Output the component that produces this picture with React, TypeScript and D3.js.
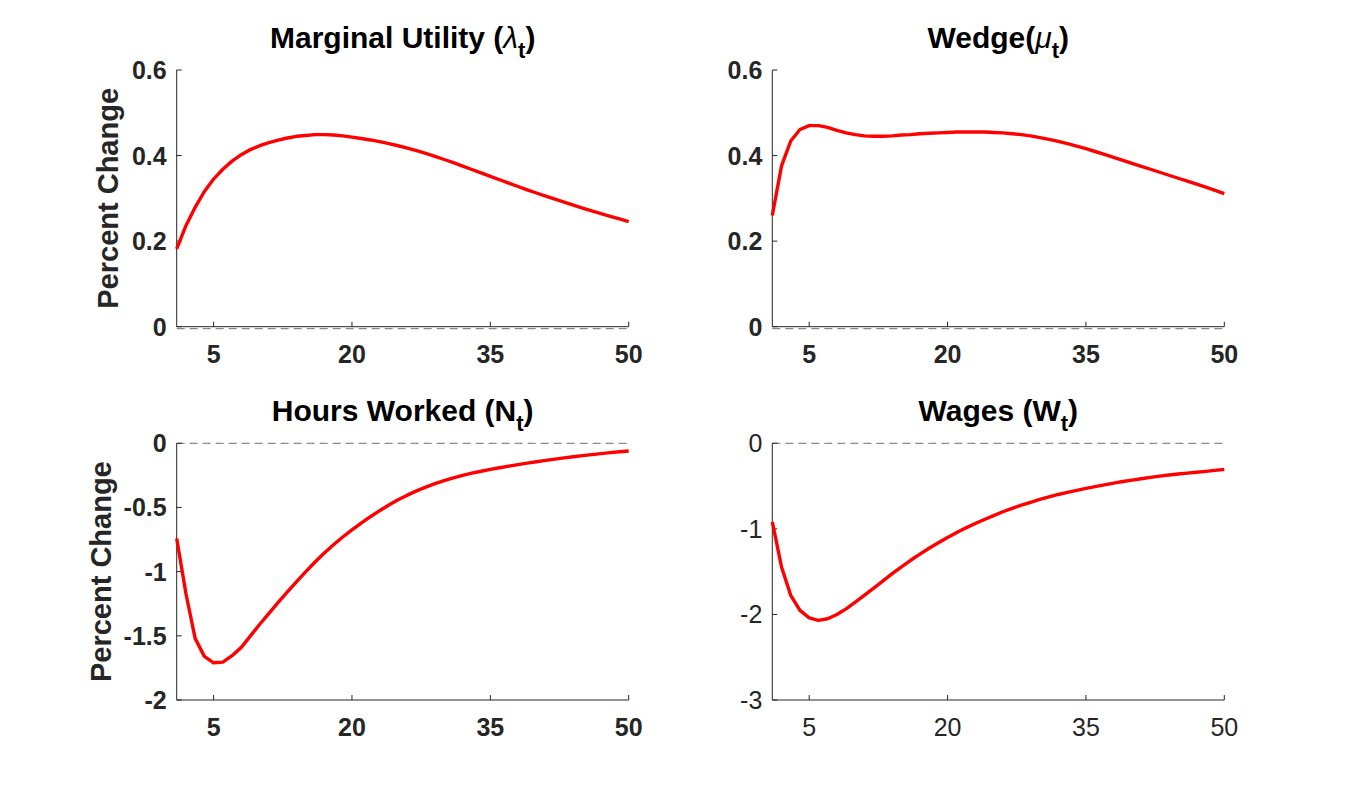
import React from "react";
import * as d3 from "d3";

// ---------- data ----------
const periods: number[] = Array.from({ length: 50 }, (_, i) => i + 1);

const marginalUtility: number[] = [
  0.182, 0.236, 0.279, 0.316, 0.345, 0.368, 0.387, 0.402, 0.414, 0.423,
  0.430, 0.436, 0.441, 0.445, 0.447, 0.449, 0.449, 0.448, 0.446, 0.443,
  0.440, 0.4365, 0.4325, 0.428, 0.423, 0.4175, 0.4115, 0.405, 0.398, 0.3908,
  0.3833, 0.3755, 0.3675, 0.3595, 0.3515, 0.3435, 0.3355, 0.3277, 0.320, 0.3125,
  0.3052, 0.298, 0.291, 0.2841, 0.2774, 0.2708, 0.2643, 0.258, 0.2518, 0.2458,
];

const wedge: number[] = [
  0.260, 0.376, 0.434, 0.461, 0.470, 0.470, 0.466, 0.459, 0.453, 0.449,
  0.446, 0.445, 0.445, 0.446, 0.448, 0.449, 0.451, 0.452, 0.453, 0.454,
  0.455, 0.455, 0.455, 0.455, 0.454, 0.453, 0.451, 0.449, 0.446, 0.442,
  0.438, 0.433, 0.428, 0.422, 0.416, 0.4095, 0.403, 0.396, 0.389, 0.382,
  0.375, 0.368, 0.361, 0.354, 0.347, 0.340, 0.333, 0.326, 0.3185, 0.311,
];

const hoursWorked: number[] = [
  -0.742, -1.17, -1.52, -1.66, -1.71, -1.705, -1.655, -1.59, -1.50, -1.41,
  -1.325, -1.24, -1.158, -1.078, -1.0, -0.925, -0.855, -0.79, -0.73, -0.675,
  -0.622, -0.572, -0.525, -0.481, -0.44, -0.404, -0.371, -0.341, -0.314, -0.29,
  -0.269, -0.25, -0.233, -0.2175, -0.2035, -0.1905, -0.178, -0.166, -0.1545, -0.1435,
  -0.133, -0.123, -0.1135, -0.1045, -0.096, -0.088, -0.0802, -0.0727, -0.0655, -0.0595,
];

const wages: number[] = [
  -0.918, -1.445, -1.777, -1.953, -2.04, -2.07, -2.05, -2.0, -1.935, -1.857,
  -1.775, -1.692, -1.607, -1.523, -1.443, -1.367, -1.295, -1.227, -1.162, -1.10,
  -1.043, -0.988, -0.938, -0.89, -0.845, -0.80, -0.76, -0.723, -0.689, -0.656,
  -0.626, -0.598, -0.573, -0.55, -0.527, -0.506, -0.485, -0.465, -0.447, -0.43,
  -0.414, -0.398, -0.383, -0.371, -0.359, -0.348, -0.338, -0.328, -0.316, -0.305,
];

const xTicks: number[] = [5, 20, 35, 50];
const xDomain: [number, number] = [1, 50];

const ticksPositive: number[] = [0, 0.2, 0.4, 0.6];
const ticksHours: number[] = [0, -0.5, -1, -1.5, -2];
const ticksWages: number[] = [0, -1, -2, -3];

type TitlePart = { text: string; kind: "normal" | "greek" | "sub" };

interface Panel {
  title: TitlePart[];
  values: number[];
  yDomain: [number, number];
  yTicks: number[];
  ylabel?: string;
  boldTicks: boolean;
  col: number;
  row: number;
}

const panels: Panel[] = [
  {
    title: [
      { text: "Marginal Utility (", kind: "normal" },
      { text: "λ", kind: "greek" },
      { text: "t", kind: "sub" },
      { text: ")", kind: "normal" },
    ],
    values: marginalUtility,
    yDomain: [0, 0.6],
    yTicks: ticksPositive,
    ylabel: "Percent Change",
    boldTicks: true,
    col: 0,
    row: 0,
  },
  {
    title: [
      { text: "Wedge(", kind: "normal" },
      { text: "μ", kind: "greek" },
      { text: "t", kind: "sub" },
      { text: ")", kind: "normal" },
    ],
    values: wedge,
    yDomain: [0, 0.6],
    yTicks: ticksPositive,
    boldTicks: true,
    col: 1,
    row: 0,
  },
  {
    title: [
      { text: "Hours Worked (N", kind: "normal" },
      { text: "t", kind: "sub" },
      { text: ")", kind: "normal" },
    ],
    values: hoursWorked,
    yDomain: [-2, 0],
    yTicks: ticksHours,
    ylabel: "Percent Change",
    boldTicks: true,
    col: 0,
    row: 1,
  },
  {
    title: [
      { text: "Wages (W", kind: "normal" },
      { text: "t", kind: "sub" },
      { text: ")", kind: "normal" },
    ],
    values: wages,
    yDomain: [-3, 0],
    yTicks: ticksWages,
    boldTicks: false,
    col: 1,
    row: 1,
  },
];

// ---------- layout ----------
const W = 1354;
const H = 787;
const colLeft = [176.7, 772.3];
const rowTop = [70, 443.3];
const axW = 452;
const axH = 256.7;
const FONT = "'Liberation Sans', Arial, Helvetica, sans-serif";
const TEXT = "#262626";
const tickLen = 5;

function PanelView({ p }: { p: Panel }) {
  const left = colLeft[p.col];
  const top = rowTop[p.row];
  const bottom = top + axH;
  const right = left + axW;
  const x = d3.scaleLinear().domain(xDomain).range([left, right]);
  const y = d3.scaleLinear().domain(p.yDomain).range([bottom, top]);

  const line = d3
    .line<number>()
    .x((_, i) => x(periods[i]))
    .y((d) => y(d));

  const zeroY = y(0) + (Math.abs(y(0) - bottom) < 0.5 ? 2 : 0);
  const tickWeight = p.boldTicks ? "bold" : "normal";

  return (
    <g>
      {/* zero reference line */}
      <line
        x1={x(xDomain[0])}
        x2={x(xDomain[1])}
        y1={zeroY}
        y2={zeroY}
        stroke="#6e6e6e"
        strokeWidth={1}
        strokeDasharray="8,5"
      />
      {/* axes */}
      <line x1={left} x2={left} y1={top} y2={bottom} stroke={TEXT} strokeWidth={1} />
      <line x1={left} x2={right} y1={bottom} y2={bottom} stroke={TEXT} strokeWidth={1} />
      {xTicks.map((t) => (
        <g key={"x" + t}>
          <line x1={x(t)} x2={x(t)} y1={bottom} y2={bottom - tickLen} stroke={TEXT} strokeWidth={1} />
          <text
            x={x(t)}
            y={bottom + 36}
            textAnchor="middle"
            fontFamily={FONT}
            fontSize={25}
            fontWeight={tickWeight}
            fill={TEXT}
          >
            {String(t)}
          </text>
        </g>
      ))}
      {p.yTicks.map((t) => (
        <g key={"y" + t}>
          <line x1={left} x2={left + tickLen} y1={y(t)} y2={y(t)} stroke={TEXT} strokeWidth={1} />
          <text
            x={left - 10}
            y={y(t)}
            dy="0.36em"
            textAnchor="end"
            fontFamily={FONT}
            fontSize={25}
            fontWeight={tickWeight}
            fill={TEXT}
          >
            {String(t)}
          </text>
        </g>
      ))}
      {/* series */}
      <path
        d={line(p.values) || ""}
        fill="none"
        stroke="#ff0000"
        strokeWidth={3.4}
        strokeLinejoin="round"
      />
      {/* title */}
      <text
        x={(left + right) / 2}
        y={top - 22}
        textAnchor="middle"
        fontFamily={FONT}
        fontSize={30}
        fontWeight="bold"
        fill="#000"
      >
        {p.title.map((part, i) => {
          const prev = i > 0 ? p.title[i - 1] : null;
          const dy = part.kind === "sub" ? 10 : prev && prev.kind === "sub" ? -10 : 0;
          if (part.kind === "sub") {
            return (
              <tspan key={i} dy={dy} fontSize={22}>
                {part.text}
              </tspan>
            );
          }
          if (part.kind === "greek") {
            return (
              <tspan key={i} dy={dy} fontWeight="normal" fontStyle="italic">
                {part.text}
              </tspan>
            );
          }
          return (
            <tspan key={i} dy={dy}>
              {part.text}
            </tspan>
          );
        })}
      </text>
      {p.ylabel && (
        <text
          transform={`translate(${left - (p.row === 0 ? 59 : 66)},${(top + bottom) / 2}) rotate(-90)`}
          textAnchor="middle"
          fontFamily={FONT}
          fontSize={29}
          fontWeight="bold"
          fill={TEXT}
        >
          {p.ylabel}
        </text>
      )}
    </g>
  );
}

export default function App() {
  return (
    <svg
      width={W}
      height={H}
      viewBox={`0 0 ${W} ${H}`}
      style={{ position: "absolute", left: 0, top: 0, background: "#fff" }}
    >
      <rect x={0} y={0} width={W} height={H} fill="#fff" />
      {panels.map((p, i) => (
        <PanelView key={i} p={p} />
      ))}
    </svg>
  );
}
